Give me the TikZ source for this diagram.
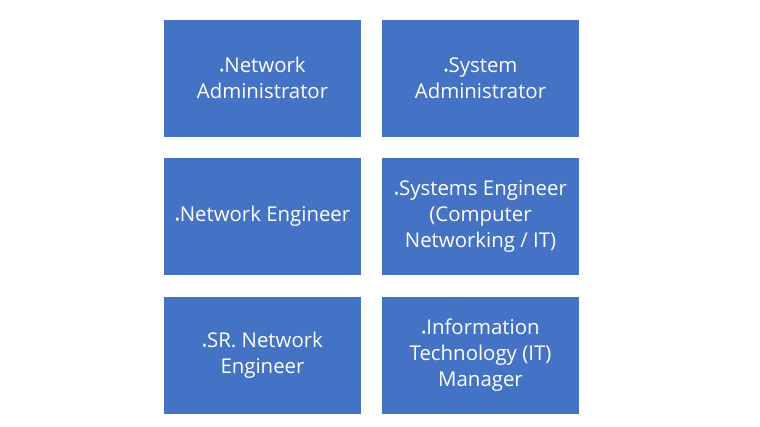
\documentclass[tikz,border=0pt]{standalone}
\usepackage{fontspec}
\setmainfont{Open Sans}
\usepackage{tikz}
\definecolor{boxblue}{HTML}{4472C4}
\tikzset{jobbox/.style={fill=boxblue,draw=none,minimum width=147.75pt,minimum height=87.75pt,
    text=white,align=center,inner sep=2pt,font=\fontsize{15.3}{19.5}\selectfont}}
\newcommand{\dotb}{{\fontsize{10}{10}\selectfont\raisebox{-2.3pt}{•}}}

\begin{document}
\begin{tikzpicture}[x=0.75pt,y=-0.75pt]
                      \useasboundingbox(0,0)rectangle(760,426);
                      \node[jobbox](netadmin)at(262.5,78){\dotb Network\\Administrator};
                      \node[jobbox](sysadmin)at(480.5,78){\dotb System\\Administrator};
                      \node[jobbox](neteng)at(262.5,216.5){\dotb Network Engineer};
                      \node[jobbox](syseng)at(480.5,216.5){\dotb Systems Engineer\\(Computer\\Networking / IT)};
                      \node[jobbox](srneteng)at(262.5,355.5){\dotb SR. Network\\Engineer};
                      \node[jobbox](itmgr)at(480.5,355.5){\dotb Information\\Technology (IT)\\Manager};
                  \end{tikzpicture}
\end{document}
